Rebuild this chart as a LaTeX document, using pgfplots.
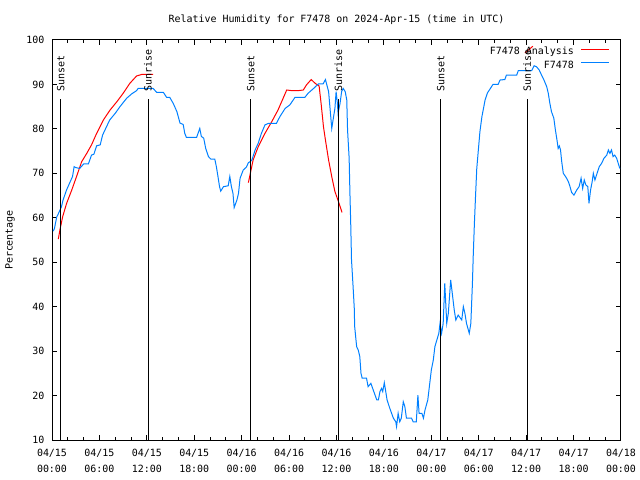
\documentclass[border=0pt]{standalone}
\usepackage{fontspec}
\setmainfont{DejaVu Sans Mono}
\usepackage{pgfplots}
\pgfplotsset{compat=1.18}
\definecolor{obsblue}{RGB}{0,128,255}
\definecolor{anared}{RGB}{255,0,0}
\begin{document}
\begin{tikzpicture}
\path[use as bounding box] (0,0) rectangle (640bp,480bp);
\begin{axis}[
  at={(52bp,40bp)}, anchor=south west,
  scale only axis, width=569bp, height=400bp,
  xmin=0, xmax=72, ymin=10, ymax=100,
  xtick={0,6,...,72},
  xticklabels={{04/15\\00:00},{04/15\\06:00},{04/15\\12:00},{04/15\\18:00},{04/16\\00:00},{04/16\\06:00},{04/16\\12:00},{04/16\\18:00},{04/17\\00:00},{04/17\\06:00},{04/17\\12:00},{04/17\\18:00},{04/18\\00:00}},
  minor x tick num=2,
  ytick={10,20,...,100},
  tick align=inside,
  major tick length=5bp, minor tick length=3bp,
  axis line style={line width=1bp},
  every tick/.style={black, line width=1bp},
  font=\fontsize{10}{16}\selectfont,
  xticklabel style={align=center, font=\fontsize{10}{16}\selectfont, yshift=-6bp},
  yticklabel style={xshift=-4bp},
  /pgf/number format/assume math mode=true,
  title={Relative Humidity for F7478 on 2024-Apr-15 (time in UTC)},
  title style={at={(axis description cs:0.5,1)}, anchor=center, yshift=14bp},
  ylabel={Percentage},
  ylabel style={at={(axis description cs:-0.0738,0.5)}, anchor=center},
  unbounded coords=jump,
]
% analysis
\addplot[anared, line width=1bp] coordinates {
(0.8,55.2) (1.0,57.25) (1.35,60.25) (1.85,63.25) (2.5,66.25) (3.1,69.25) (3.75,72.6)
(4.4,74.5) (5.0,76.4) (5.65,79.0) (6.5,82.0) (7.35,84.25) (8.2,86.1) (9.0,88.0)
(9.85,90.25) (10.7,91.9) (11.35,92.25) (12.8,92.25)
(nan,nan)
(24.85,67.9) (25.05,69.6) (25.45,73.0) (26.1,76.0) (26.95,79.0) (27.8,81.6) (28.6,84.25)
(29.25,86.9) (29.7,88.75) (30.35,88.6) (31.15,88.6) (31.8,88.75) (32.2,89.9) (32.8,91.1)
(33.3,90.25) (33.8,89.65) (34.05,85.75) (34.35,80.5) (34.6,77.5) (35.0,73.0) (35.4,69.25)
(35.8,65.9) (36.25,63.65) (36.7,61.2)
(nan,nan)
(59.85,97.1) (60.85,98.6)
};
% observations
\addplot[obsblue, line width=1bp] coordinates {
(0.15,57.0) (0.3,57.5) (0.6,60.2) (0.8,60.9) (1.2,62.5) (1.4,64.0) (1.85,66.3) (2.3,68.1)
(2.6,69.3) (2.8,71.5) (3.0,71.3) (3.5,71.1) (4.0,72.1) (4.6,72.1) (5.0,74.1) (5.3,74.3)
(5.65,76.2) (6.1,76.4) (6.4,78.6) (6.9,80.5) (7.3,82.0) (8.0,83.5) (8.6,85.0) (9.45,86.9)
(10.1,87.9) (10.7,88.6) (10.9,89.1) (12.8,89.1) (13.25,88.2) (14.1,88.2) (14.5,87.1)
(14.9,87.1) (15.35,85.7) (15.8,83.9) (16.2,81.3) (16.6,81.0) (16.8,79.0) (17.0,78.1)
(18.3,78.1) (18.7,80.1) (18.9,78.3) (19.2,77.9) (19.45,75.6) (19.8,73.75) (20.1,73.2)
(20.6,73.2) (20.8,71.5) (21.0,69.3) (21.2,67.0) (21.35,66.0) (21.7,67.0) (22.3,67.2)
(22.5,69.3) (22.7,67.0) (22.9,65.5) (23.05,62.3) (23.4,64.0) (23.6,65.5) (23.8,68.9)
(24.2,70.75) (24.6,71.4) (24.85,72.4) (25.05,72.6) (25.3,73.0) (25.7,75.25) (26.1,76.8)
(26.5,79.0) (26.95,80.9) (27.4,81.25) (28.4,81.25) (28.85,82.8) (29.5,84.6) (30.1,85.4)
(30.75,87.1) (32.0,87.1) (32.4,88.0) (33.1,89.1) (33.7,90.1) (34.3,90.1) (34.6,91.1)
(35.0,88.4) (35.2,84.25) (35.4,80.1) (35.6,82.4) (35.8,84.6) (35.95,88.4) (36.1,86.0)
(36.2,83.5) (36.45,85.75) (36.65,88.4) (36.85,89.1) (37.1,88.4) (37.3,86.5) (37.4,79.75)
(37.6,73.4) (37.7,65.5) (37.8,58.75) (37.9,50.5) (38.1,44.5) (38.25,39.6) (38.3,35.5)
(38.55,31.0) (38.75,30.25) (38.95,28.75) (39.1,25.0) (39.25,23.9) (39.8,23.9) (40.0,22.0)
(40.35,22.75) (40.65,21.25) (41.1,19.0) (41.3,19.0) (41.5,20.9) (41.7,21.6) (41.85,20.9)
(42.05,22.9) (42.2,21.25) (42.4,19.0) (42.75,17.1) (43.2,14.9) (43.5,14.1) (43.6,13.0)
(43.8,16.0) (44.0,14.1) (44.2,14.9) (44.45,18.6) (44.65,17.5) (44.85,14.9) (45.5,14.9)
(45.7,14.1) (46.1,14.1) (46.3,20.1) (46.45,16.0) (46.8,16.0) (47.0,14.9) (47.2,16.75)
(47.55,19.0) (47.8,22.75) (48.0,25.75) (48.25,28.0) (48.45,31.0) (48.7,32.5) (48.95,34.0)
(49.1,36.25) (49.3,34.0) (49.5,36.25) (49.7,45.25) (49.95,36.25) (50.15,38.5) (50.45,46.0)
(50.65,43.0) (50.9,39.25) (51.1,37.0) (51.4,38.1) (51.85,37.0) (52.05,40.0) (52.25,38.5)
(52.45,36.25) (52.8,34.0) (53.0,36.25) (53.2,45.25) (53.3,51.25) (53.45,58.75) (53.6,65.1)
(53.75,71.1) (53.95,75.25) (54.15,79.4) (54.4,82.75) (54.6,84.6) (54.8,86.5) (55.1,88.1)
(55.4,88.9) (55.8,90.0) (56.45,90.0) (56.7,91.0) (57.3,91.1) (57.5,92.1) (58.8,92.1)
(59.0,93.1) (60.7,93.1) (61.0,94.2) (61.3,94.0) (61.65,93.25) (61.95,92.1) (62.25,91.0)
(62.6,89.5) (62.8,88.0) (63.0,85.75) (63.2,83.9) (63.5,82.4) (63.7,79.75) (63.9,77.5)
(64.05,75.6) (64.2,76.15) (64.35,75.25) (64.5,72.6) (64.7,70.0) (65.05,69.1) (65.35,68.1)
(65.55,67.0) (65.75,65.7) (66.05,65.1) (66.4,66.25) (66.7,67.0) (66.95,68.9) (67.15,66.6)
(67.35,68.5) (67.55,67.4) (67.8,67.0) (67.95,63.25) (68.15,66.25) (68.35,68.1) (68.5,70.0)
(68.7,68.5) (68.9,69.6) (69.25,71.5) (69.55,72.25) (69.85,73.4) (70.2,74.1) (70.4,75.25)
(70.6,74.5) (70.8,75.25) (71.0,73.75) (71.2,74.1) (71.45,73.4) (71.65,72.25) (71.85,71.1)
};
% sunset / sunrise markers
\addplot[black, line width=1bp] coordinates {
(1.1,10) (1.1,86.7) (nan,nan) (12.15,10) (12.15,86.7) (nan,nan)
(25.14,10) (25.14,86.7) (nan,nan) (36.23,10) (36.23,86.7) (nan,nan)
(49.18,10) (49.18,86.7) (nan,nan) (60.14,10) (60.14,86.7)
};
\node[rotate=90, anchor=west, inner sep=0pt] at (axis cs:1.1,88.3) {Sunset};
\node[rotate=90, anchor=west, inner sep=0pt] at (axis cs:12.15,88.3) {Sunrise};
\node[rotate=90, anchor=west, inner sep=0pt] at (axis cs:25.14,88.3) {Sunset};
\node[rotate=90, anchor=west, inner sep=0pt] at (axis cs:36.23,88.3) {Sunrise};
\node[rotate=90, anchor=west, inner sep=0pt] at (axis cs:49.18,88.3) {Sunset};
\node[rotate=90, anchor=west, inner sep=0pt] at (axis cs:60.14,88.3) {Sunrise};
% key, gnuplot style: text right-aligned, sample line to its right
\node[anchor=east, inner sep=0pt, font=\fontsize{10}{12}\selectfont] at (axis description cs:0.9174,0.971) {F7478 Analysis};
\draw[anared, line width=1bp] (axis description cs:0.9297,0.975) -- (axis description cs:0.9789,0.975);
\node[anchor=east, inner sep=0pt, font=\fontsize{10}{12}\selectfont] at (axis description cs:0.9174,0.9385) {F7478};
\draw[obsblue, line width=1bp] (axis description cs:0.9297,0.9425) -- (axis description cs:0.9789,0.9425);
\end{axis}
\end{tikzpicture}
\end{document}
